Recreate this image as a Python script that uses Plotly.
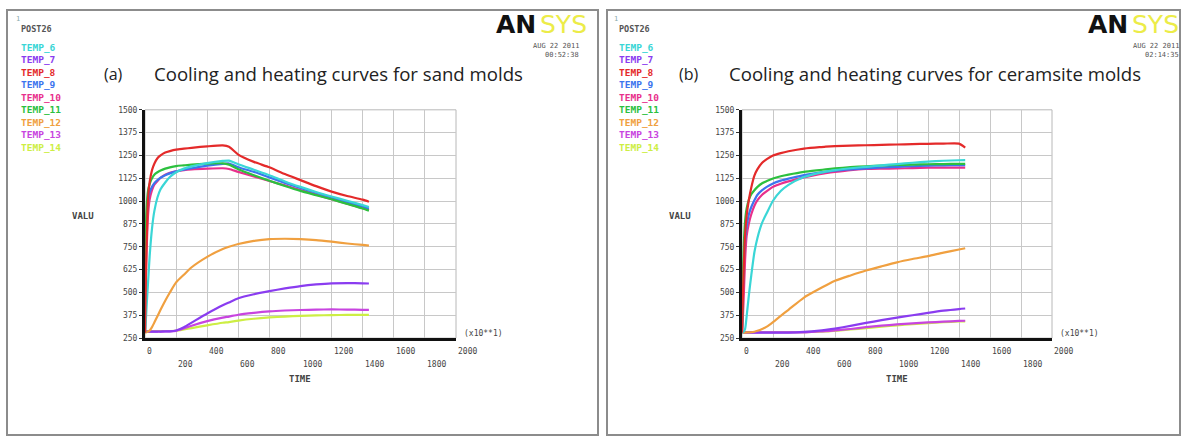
import plotly.graph_objects as go

W, H = 1183, 445

# ---------------- data ----------------
SERIES = ["TEMP_6", "TEMP_7", "TEMP_8", "TEMP_9", "TEMP_10",
          "TEMP_11", "TEMP_12", "TEMP_13", "TEMP_14"]
COLORS = ["#3ad6d6", "#8a3cf0", "#e42a2a", "#3c74ee", "#e8308c",
          "#2cc03e", "#f0a040", "#c844e0", "#cdee44"]

TIME = [0, 5, 10, 20, 30, 45, 60, 80, 100, 130, 160, 200, 250, 300, 400,
        500, 540, 600, 700, 800, 900, 1000, 1100, 1200, 1300, 1400, 1440]

# (a) sand molds
SAND_T6 = [280, 340, 420, 560, 700, 850, 945, 1020, 1065, 1102, 1132, 1158, 1178, 1190, 1208,
           1220, 1222, 1202, 1172, 1142, 1108, 1078, 1050, 1025, 1002, 978, 968]
SAND_T7 = [285, 285, 285, 285, 285, 285, 285, 286, 286, 287, 287, 292, 310, 335, 385,
           430, 445, 468, 490, 507, 522, 535, 544, 550, 551, 550, 549]
SAND_T8 = [280, 560, 760, 1020, 1105, 1170, 1205, 1235, 1250, 1266, 1274, 1282, 1287, 1292, 1300,
           1305, 1298, 1255, 1215, 1185, 1148, 1115, 1082, 1052, 1028, 1008, 997]
SAND_T9 = [280, 700, 900, 1000, 1048, 1078, 1098, 1115, 1128, 1142, 1152, 1163, 1172, 1180, 1194,
           1204, 1206, 1186, 1160, 1130, 1100, 1072, 1046, 1020, 996, 970, 960]
SAND_T10 = [280, 560, 720, 930, 1010, 1060, 1090, 1110, 1128, 1145, 1155, 1163, 1170, 1174, 1178,
            1180, 1176, 1160, 1135, 1110, 1086, 1060, 1036, 1010, 986, 962, 952]
SAND_T11 = [280, 800, 960, 1060, 1095, 1125, 1145, 1158, 1168, 1178, 1185, 1192, 1196, 1200, 1205,
            1207, 1200, 1175, 1142, 1112, 1083, 1056, 1033, 1010, 985, 960, 948]
SAND_T12 = [280, 281, 283, 286, 292, 310, 335, 370, 405, 455, 500, 555, 597, 638, 695,
            738, 750, 765, 782, 792, 794, 792, 787, 778, 768, 760, 756]
SAND_T13 = [285, 285, 285, 285, 285, 285, 285, 285, 285, 286, 287, 290, 303, 318, 343,
            362, 368, 378, 388, 396, 401, 404, 406, 407, 406, 405, 405]
SAND_T14 = [288, 288, 288, 288, 288, 288, 288, 288, 289, 289, 289, 290, 297, 305, 320,
            334, 338, 346, 356, 363, 368, 372, 374, 376, 377, 377, 377]

# (b) ceramsite molds
CERA_T6 = [280, 282, 285, 300, 370, 490, 595, 720, 800, 882, 935, 1002, 1055, 1089, 1132,
           1155, 1162, 1170, 1180, 1188, 1196, 1203, 1210, 1216, 1221, 1224, 1225]
CERA_T7 = [280, 280, 280, 280, 280, 280, 280, 280, 280, 280, 280, 280, 280, 280, 284,
           291, 295, 302, 317, 333, 348, 362, 375, 388, 400, 409, 412]
CERA_T8 = [280, 450, 600, 815, 920, 1010, 1075, 1140, 1175, 1210, 1230, 1250, 1263, 1273, 1288,
           1296, 1298, 1301, 1304, 1306, 1308, 1310, 1312, 1314, 1315, 1315, 1293]
CERA_T9 = [280, 480, 640, 780, 860, 930, 968, 1005, 1035, 1060, 1078, 1097, 1112, 1123, 1142,
           1156, 1160, 1167, 1174, 1179, 1184, 1188, 1191, 1194, 1196, 1197, 1197]
CERA_T10 = [280, 350, 450, 680, 810, 880, 928, 975, 1005, 1035, 1055, 1078, 1095, 1108, 1130,
            1148, 1153, 1160, 1170, 1176, 1178, 1179, 1181, 1183, 1183, 1183, 1183]
CERA_T11 = [280, 500, 720, 890, 960, 1010, 1038, 1060, 1078, 1098, 1110, 1124, 1136, 1145, 1160,
            1170, 1174, 1179, 1186, 1191, 1195, 1198, 1200, 1202, 1203, 1204, 1204]
CERA_T12 = [280, 280, 280, 280, 281, 281, 282, 285, 290, 300, 313, 338, 372, 405, 472,
            520, 538, 564, 593, 620, 643, 665, 683, 699, 718, 735, 742]
CERA_T13 = [281, 281, 281, 281, 281, 281, 281, 281, 281, 281, 281, 281, 281, 281, 281,
            286, 288, 292, 300, 310, 318, 325, 331, 336, 340, 344, 345]
CERA_T14 = [283, 283, 283, 283, 283, 283, 283, 283, 283, 283, 283, 283, 283, 283, 283,
            285, 286, 290, 297, 305, 313, 320, 326, 332, 337, 341, 342]

SAND = [SAND_T6, SAND_T7, SAND_T8, SAND_T9, SAND_T10, SAND_T11, SAND_T12, SAND_T13, SAND_T14]
CERA = [CERA_T6, CERA_T7, CERA_T8, CERA_T9, CERA_T10, CERA_T11, CERA_T12, CERA_T13, CERA_T14]

Y_TICKS = [250, 375, 500, 625, 750, 875, 1000, 1125, 1250, 1375, 1500]
X_TICKS_ROW1 = [0, 400, 800, 1200, 1600, 2000]
X_TICKS_ROW2 = [200, 600, 1000, 1400, 1800]

TITLES = [("(a)", "Cooling and heating curves for sand molds"),
          ("(b)", "Cooling and heating curves for ceramsite molds")]
DATES = [("AUG 22 2011", "00:52:38"), ("AUG 22 2011", "02:14:35")]

DRAW_ORDER = [8, 7, 1, 6, 4, 3, 5, 0, 2]


def px(x):
    return x / W


def py(y):
    return 1 - y / H


fig = go.Figure()

panels = [
    dict(xa="x", ya="y", data=SAND, px0=7, px1=598, ax0=145, ax1=456, off=0),
    dict(xa="x2", ya="y2", data=CERA, px0=607, px1=1180, ax0=742, ax1=1052, off=598),
]

MONO = "DejaVu Sans Mono"
annotations = []
shapes = []


def txt(x, y, text, size, color, family=MONO, xanchor="left", xref="paper", **kw):
    d = dict(x=x, y=y, xref=xref, yref="paper", text=text, showarrow=False,
             xanchor=xanchor, yanchor="middle",
             font=dict(family=family, size=size, color=color))
    d.update(kw)
    annotations.append(d)


for pi, p in enumerate(panels):
    for si in DRAW_ORDER:
        fig.add_trace(go.Scatter(
            x=TIME, y=p["data"][si], mode="lines", name=SERIES[si],
            line=dict(color=COLORS[si], width=2.2, shape="spline", smoothing=0.6),
            xaxis=p["xa"], yaxis=p["ya"], showlegend=False))

    off = p["off"]
    # panel frame
    shapes.append(dict(type="rect", xref="paper", yref="paper",
                       x0=px(p["px0"]), x1=px(p["px1"]), y0=py(440), y1=py(6),
                       line=dict(color="#8c8c8c", width=2), layer="below"))
    # plot frame (top/right)
    shapes.append(dict(type="rect", xref=p["xa"] + " domain", yref=p["ya"] + " domain",
                       x0=0, x1=1, y0=0, y1=1, line=dict(color="#b8b8b8", width=1),
                       layer="below"))

    # x tick labels (staggered)
    for v in X_TICKS_ROW1:
        txt(v, py(355), str(v), 8, "#444", xref=p["xa"])
    for v in X_TICKS_ROW2:
        txt(v, py(368), str(v), 8, "#444", xref=p["xa"])
    txt(px(p["ax1"] + 6), py(336), "(x10**1)", 8, "#444")
    txt(px((p["ax0"] + p["ax1"]) / 2), py(383), "<b>TIME</b>", 9, "#444", xanchor="center")
    txt(px(p["ax0"] - 62), py(216), "<b>VALU</b>", 9, "#444", xanchor="center")

    # legend list
    txt(px(off + 14), py(15), "1", 7, "#8aa")
    txt(px(off + 19), py(26), "<b>POST26</b>", 8.5, "#555")
    for i, name in enumerate(SERIES):
        txt(px(off + 19), py(44 + i * 12.75), "<b>" + name + "</b>", 9.5, COLORS[i])

    # titles
    lab, ttl = TITLES[pi]
    txt(px(102 if pi == 0 else 677), py(71), lab, 16, "#222", family="Open Sans")
    txt(px(152 if pi == 0 else 727), py(71), ttl, 18.6, "#222", family="Open Sans",
        bgcolor="white")

    # ANSYS logo + date
    lx = 538 if pi == 0 else 1130
    txt(px(lx), py(21), "<b>AN</b>", 25, "#111", family="DejaVu Sans", xanchor="right")
    txt(px(lx), py(21), "SYS", 25, "#ecec48", family="DejaVu Sans")
    d1, d2 = DATES[pi]
    rx = 581 if pi == 0 else 1181
    txt(px(rx), py(43), d1, 7, "#555", xanchor="right")
    txt(px(rx), py(52), d2, 7, "#555", xanchor="right")

xaxis_common = dict(range=[0, 2000], dtick=200, tick0=0, showgrid=True, gridcolor="#c8c8c8",
                    gridwidth=1, zeroline=False, showline=True, linecolor="#111",
                    linewidth=3, showticklabels=False, ticks="")
yaxis_common = dict(range=[250, 1500], tickvals=Y_TICKS, ticktext=[str(v) for v in Y_TICKS],
                    showgrid=True, gridcolor="#c8c8c8", gridwidth=1, zeroline=False,
                    showline=True, linecolor="#111", linewidth=3, ticks="outside",
                    ticklen=3, tickcolor="#333",
                    tickfont=dict(family=MONO, size=8, color="#444"))

fig.update_layout(
    width=W, height=H, margin=dict(l=0, r=0, t=0, b=0),
    paper_bgcolor="white", plot_bgcolor="white",
    xaxis=dict(domain=[px(145), px(456)], anchor="y", **xaxis_common),
    yaxis=dict(domain=[py(341), py(108)], anchor="x", **yaxis_common),
    xaxis2=dict(domain=[px(742), px(1052)], anchor="y2", **xaxis_common),
    yaxis2=dict(domain=[py(341), py(108)], anchor="x2", **yaxis_common),
    annotations=annotations, shapes=shapes,
)

fig.write_html("out.html")
